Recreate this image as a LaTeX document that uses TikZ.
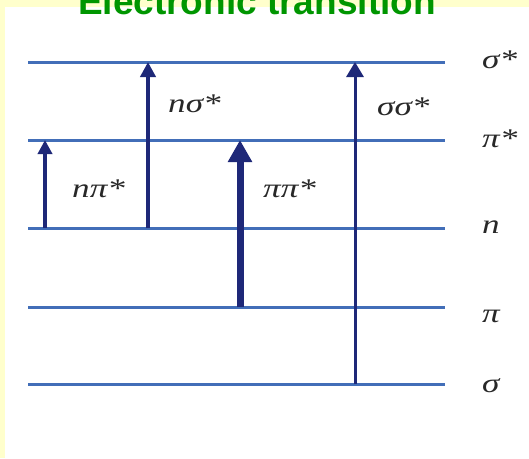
\documentclass[tikz,border=0pt]{standalone}
\usepackage{fontspec}
\setmainfont{Liberation Serif}
\newfontfamily\headfont{Liberation Sans}
\newfontfamily\lblfont{Liberation Serif}[FakeStretch=1.3]
\usetikzlibrary{positioning,arrows.meta}
\definecolor{paleyellow}{RGB}{255,255,204}
\definecolor{levelblue}{RGB}{66,110,184}
\definecolor{navy}{RGB}{30,40,120}
\definecolor{titlegreen}{RGB}{0,150,0}
\definecolor{lblgray}{RGB}{40,40,40}

\begin{document}
\begin{tikzpicture}[x=1pt,y=-1pt,
		level/.style={line width=3pt, levelblue},
		trans/.style={navy, line width=4pt, -{Triangle[width=14pt,length=14pt]}},
		lbl/.style={font=\lblfont\fontsize{27}{27}\selectfont\itshape, text=lblgray, inner sep=0pt},
	]
		
		\useasboundingbox (0,0) rectangle (529,458);
		\clip (0,0) rectangle (529,458);
		\fill[paleyellow] (0,0) rectangle (529,458);
		\fill[white] (5,7) rectangle (529,458);
		
		\node[anchor=base, inner sep=0pt, text=titlegreen,
			font=\headfont\bfseries\fontsize{37}{37}\selectfont] (title) at (257,14) {Electronic transition};
		
		\foreach \name/\y/\by/\txt in {ss/62/68/σ*, ps/140/147/π*, n/228/233/n, p/307/322/π, s/384/392/σ} {
			\coordinate (\name-l) at (28,\y);
			\coordinate (\name-r) at (445,\y);
			\draw[level] (\name-l) -- (\name-r);
			\node[lbl, anchor=base west] (\name-lab) at (482,\by) {\txt};
		}
		
		\coordinate (npi-a) at (45,228);
		\coordinate (npi-b) at (45,140);
		\coordinate (nsig-a) at (148,228);
		\coordinate (nsig-b) at (148,62);
		\coordinate (pipi-a) at (240,307);
		\coordinate (pipi-b) at (240,140);
		\coordinate (sigsig-a) at (355,384);
		\coordinate (sigsig-b) at (355,62);
		
		\draw[trans] (npi-a) -- (npi-b);
		\draw[trans, -{Triangle[width=15pt,length=15pt]}] (nsig-a) -- (nsig-b);
		\draw[trans, line width=7pt, -{Triangle[width=23pt,length=22pt]}] (pipi-a) -- (pipi-b);
		\draw[trans, line width=3pt, -{Triangle[width=17pt,length=15pt]}] (sigsig-a) -- (sigsig-b);
		
		\node[lbl, anchor=base west] (npi-lab) at (72,197) {nπ*};
		\node[lbl, anchor=base west] (nsig-lab) at (168,112) {nσ*};
		\node[lbl, anchor=base west] (pipi-lab) at (263,197) {ππ*};
		\node[lbl, anchor=base west] (sigsig-lab) at (377,115) {σσ*};
		
	\end{tikzpicture}
\end{document}
